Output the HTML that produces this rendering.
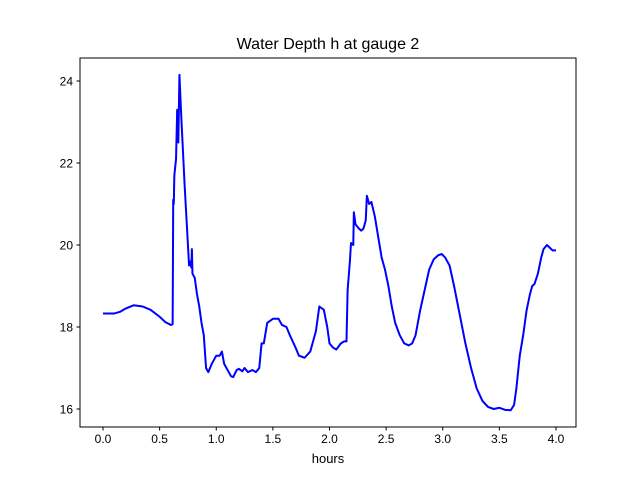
<!DOCTYPE html>
<html><head><meta charset="utf-8"><style>
body{margin:0;background:#fff;}
svg{display:block;font-family:"Liberation Sans","DejaVu Sans",sans-serif;}
</style></head><body>
<svg id="chart" width="640" height="480">
<rect x="0" y="0" width="640" height="480" fill="#fff"/>
<text x="328" y="49" text-anchor="middle" font-size="16">Water Depth h at gauge 2</text>
<g id="plot"></g>
<rect x="80" y="58" width="496" height="369" fill="none" stroke="#000" stroke-width="1"/>
<text x="328" y="463" text-anchor="middle" font-size="13">hours</text>
</svg>
<script>
const xTicks=[0,0.5,1,1.5,2,2.5,3,3.5,4];
const xTickLabels=["0.0","0.5","1.0","1.5","2.0","2.5","3.0","3.5","4.0"];
const yTicks=[16,18,20,22,24];
const yTickLabels=["16","18","20","22","24"];
const hours=[0,0.1,0.15,0.2,0.27,0.35,0.42,0.5,0.55,0.6,0.615,0.62,0.625,0.63,0.645,0.655,0.665,0.675,0.69,0.72,0.75,0.76,0.77,0.78,0.785,0.79,0.81,0.83,0.85,0.87,0.89,0.91,0.93,0.96,0.98,1.0,1.03,1.05,1.07,1.1,1.13,1.15,1.18,1.2,1.23,1.25,1.28,1.32,1.35,1.38,1.4,1.42,1.45,1.5,1.55,1.58,1.62,1.65,1.7,1.73,1.78,1.83,1.88,1.91,1.95,1.98,2.0,2.03,2.06,2.1,2.13,2.15,2.16,2.18,2.19,2.21,2.215,2.23,2.26,2.28,2.3,2.32,2.33,2.35,2.37,2.4,2.43,2.46,2.49,2.52,2.55,2.58,2.62,2.66,2.7,2.73,2.76,2.8,2.84,2.88,2.92,2.96,2.99,3.02,3.06,3.1,3.15,3.2,3.25,3.3,3.35,3.4,3.45,3.5,3.55,3.6,3.63,3.65,3.68,3.71,3.74,3.77,3.79,3.81,3.84,3.87,3.89,3.92,3.95,3.97,4.0];
const depth=[18.33,18.33,18.37,18.45,18.53,18.5,18.42,18.25,18.12,18.05,18.07,21.1,21.0,21.7,22.1,23.3,22.5,24.15,23.2,21.5,20.0,19.5,19.6,19.45,19.9,19.3,19.2,18.8,18.5,18.1,17.8,17.0,16.9,17.1,17.2,17.3,17.3,17.4,17.1,16.95,16.8,16.78,16.95,16.98,16.92,17.0,16.9,16.95,16.9,17.0,17.6,17.6,18.1,18.2,18.2,18.05,18.0,17.8,17.5,17.3,17.25,17.4,17.9,18.5,18.42,18.0,17.6,17.5,17.45,17.6,17.65,17.65,18.9,19.6,20.05,20.0,20.8,20.5,20.4,20.35,20.4,20.6,21.2,21.0,21.05,20.7,20.2,19.7,19.4,19.0,18.5,18.1,17.8,17.6,17.55,17.6,17.8,18.4,18.9,19.4,19.65,19.75,19.78,19.7,19.5,19.0,18.3,17.6,17.0,16.5,16.2,16.05,16.0,16.03,15.98,15.97,16.1,16.5,17.3,17.8,18.4,18.8,19.0,19.05,19.3,19.7,19.9,20.0,19.92,19.87,19.87];
const NS="http://www.w3.org/2000/svg";
function xs(v){return 103+v*113.25;}
function ys(v){return 409-(v-16)*41;}
const g=document.getElementById('plot');
function mk(t,a){const e=document.createElementNS(NS,t);for(const k in a)e.setAttribute(k,a[k]);return e;}
xTicks.forEach((v,i)=>{
  const l=mk('line',{x1:xs(v),x2:xs(v),y1:427,y2:430.5,stroke:'#000'});
  
  
  g.appendChild(l);
  const t=mk('text',{x:xs(v),y:443,'text-anchor':'middle','font-size':'12'});
  
  
  t.textContent=xTickLabels[i];g.appendChild(t);
});
yTicks.forEach((v,i)=>{
  const l=mk('line',{x1:76.5,x2:80,y1:ys(v),y2:ys(v),stroke:'#000'});
  
  
  g.appendChild(l);
  const t=mk('text',{x:73,y:ys(v)+4.5,'text-anchor':'end','font-size':'12'});
  
  
  t.textContent=yTickLabels[i];g.appendChild(t);
});
const d=hours.map((h,i)=>(i?'L':'M')+xs(h).toFixed(2)+' '+ys(depth[i]).toFixed(2)).join(' ');
const p=mk('path',{d:d,fill:'none',stroke:'#0000ff','stroke-width':'2','stroke-linejoin':'round'});


g.appendChild(p);
</script>
</body></html>
